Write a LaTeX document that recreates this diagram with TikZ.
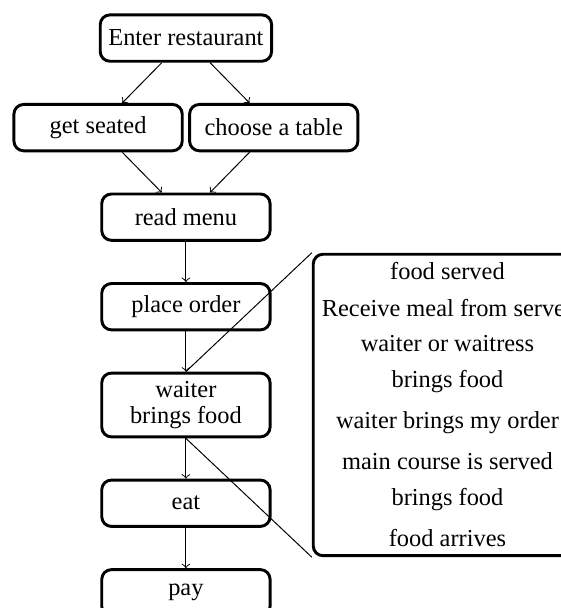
\documentclass[tikz,border=0pt]{standalone}
\usepackage{fontspec}
\setmainfont{Liberation Serif}
\usetikzlibrary{positioning,matrix}

\begin{document}
\begin{tikzpicture}[
	node distance=0.58cm,
	stage/.style={draw, very thick, rounded corners=4pt, align=center,
		minimum width=69pt, minimum height=19pt},
	flow/.style={->}
	]
	\useasboundingbox (-76.2pt,-233.6pt) rectangle (153.7pt,15.6pt);

	% --- main sequence ---
	\node[stage] (enter) at (0,0) {Enter restaurant};
	\node[stage, below=of enter, xshift=-36pt] (seated) {get seated};
	\node[stage, below=of enter, xshift=36pt] (table) {choose a table};
	\node[stage, below=of seated, xshift=36pt] (menu) {read menu};
	\node[stage, below=of menu] (order) {place order};
	\node[stage, below=of order] (waiter) {waiter\\[-1.3pt]brings food};
	\node[stage, below=of waiter] (eat) {eat};
	\node[stage, below=of eat] (pay) {pay};

	\draw[flow] (enter) -- (seated);
	\draw[flow] (enter) -- (table);
	\draw[flow] (seated) -- (menu);
	\draw[flow] (table) -- (menu);
	\draw[flow] (menu) -- (order);
	\draw[flow] (order) -- (waiter);
	\draw[flow] (waiter) -- (eat);
	\draw[flow] (eat) -- (pay);

	% --- paraphrases of "waiter brings food" ---
	\matrix (served) [matrix of nodes, draw, very thick, rounded corners=4pt,
		inner sep=3.5pt, row sep=7.7pt, nodes={inner sep=0pt},
		right=of waiter] {
		food served \\
		Receive meal from server \\
		waiter or waitress \\
		brings food \\
		waiter brings my order \\
		main course is served \\
		brings food \\
		food arrives \\
	};
	\draw (waiter.north) -- (served.north west);
	\draw (waiter.south) -- (served.south west);
\end{tikzpicture}
\end{document}
